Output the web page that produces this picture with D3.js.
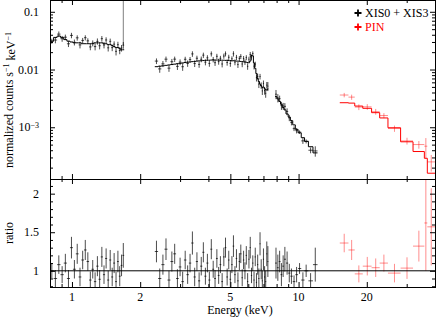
<!DOCTYPE html>
<html>
<head>
<meta charset="utf-8">
<title>spectrum and ratio</title>
<style>
  body { margin: 0; background: #fff; }
  svg text { font-family: "Liberation Serif", "DejaVu Serif", serif; }
</style>
</head>
<body>
<div id="chart"></div>
<script src="https://d3js.org/d3.v7.min.js"></script>
<script>
// XIS0 + XIS3 : three energy pieces (keV bin centres), model, data/model ratio and its error
var xisEnergy = [
  [0.815, 0.845, 0.875, 0.905, 0.935, 0.965, 0.995, 1.025, 1.055, 1.085,
   1.115, 1.145, 1.175, 1.205, 1.235, 1.265, 1.295, 1.325, 1.355, 1.385,
   1.415, 1.445, 1.475, 1.505, 1.535, 1.565, 1.595, 1.625, 1.655, 1.685],
  [2.36, 2.44, 2.52, 2.60, 2.68, 2.76, 2.84, 2.92, 3.00, 3.08,
   3.16, 3.24, 3.32, 3.40, 3.48, 3.56, 3.64, 3.72, 3.80, 3.88,
   3.96, 4.04, 4.12, 4.20, 4.28, 4.36, 4.44, 4.52, 4.60, 4.68,
   4.76, 4.84, 4.92, 5.00, 5.08, 5.16, 5.24, 5.32, 5.40, 5.48,
   5.56, 5.64, 5.72, 5.80, 5.88, 5.96, 6.04, 6.12, 6.20, 6.28,
   6.36, 6.44, 6.52, 6.60, 6.68, 6.76, 6.84, 6.92, 7.00, 7.08,
   7.16, 7.24, 7.32],
  [7.95, 8.10, 8.25, 8.40, 8.55, 8.70, 8.90, 9.10, 9.30, 9.55,
   9.80, 10.10, 10.45, 10.80, 11.30, 11.85]
];
var xisModel = [
  [0.031, 0.036, 0.038, 0.036, 0.033, 0.031, 0.030, 0.029, 0.029, 0.029,
   0.028, 0.028, 0.028, 0.028, 0.028, 0.029, 0.029, 0.029, 0.029, 0.028,
   0.028, 0.027, 0.027, 0.026, 0.025, 0.024, 0.024, 0.023, 0.022, 0.022],
  [0.0112, 0.0114, 0.0116, 0.0118, 0.0120, 0.0122, 0.0124, 0.0126, 0.0128, 0.0130,
   0.0132, 0.0134, 0.0135, 0.0137, 0.0138, 0.0140, 0.0141, 0.0142, 0.0143, 0.0144,
   0.0145, 0.0145, 0.0146, 0.0146, 0.0146, 0.0146, 0.0146, 0.0145, 0.0145, 0.0145,
   0.0144, 0.0144, 0.0143, 0.0143, 0.0142, 0.0142, 0.0141, 0.0140, 0.0140, 0.0139,
   0.0138, 0.0137, 0.0136, 0.0135, 0.0134, 0.0132, 0.0131, 0.0140, 0.0175, 0.0172,
   0.0130, 0.0105, 0.0085, 0.0070, 0.0062, 0.0056, 0.0052, 0.0049, 0.0050, 0.0047,
   0.0045, 0.0044, 0.0046],
  [0.0034, 0.0031, 0.0028, 0.0025, 0.0022, 0.0020, 0.0017, 0.0015, 0.0013, 0.0011,
   0.00092, 0.00080, 0.00066, 0.00057, 0.00046, 0.00036]
];
var xisRatio = [
  [1.00, 0.90, 1.08, 0.95, 1.10, 0.90, 1.30, 1.02, 1.22, 0.92,
   1.14, 1.27, 1.12, 0.88, 1.02, 0.86, 1.06, 0.89, 1.18, 0.95,
   1.16, 0.88, 1.14, 0.92, 1.10, 0.86, 1.12, 0.93, 1.07, 1.20],
  [1.25, 0.90, 1.08, 1.28, 0.88, 1.12, 1.22, 0.90, 1.05, 0.86,
   1.14, 0.95, 1.10, 1.36, 0.92, 1.12, 0.87, 1.06, 1.24, 0.93,
   1.10, 0.88, 1.28, 1.02, 0.90, 1.16, 0.94, 1.08, 0.86, 1.18,
   1.30, 0.92, 1.14, 0.89, 1.08, 1.32, 0.95, 1.16, 0.87, 1.12,
   1.22, 0.91, 1.14, 1.00, 1.20, 0.86, 1.15, 1.30, 0.94, 1.10,
   0.88, 1.18, 0.85, 1.08, 0.90, 1.35, 1.02, 0.87, 1.15, 0.92,
   0.86, 1.22, 1.12],
  [1.10, 1.04, 1.12, 0.95, 1.06, 1.15, 1.10, 0.97, 0.93, 0.86,
   0.95, 1.03, 0.88, 1.00, 0.87, 1.08]
];
var xisRatioErr = [
  [0.10, 0.11, 0.12, 0.11, 0.12, 0.11, 0.14, 0.12, 0.13, 0.12,
   0.12, 0.13, 0.12, 0.11, 0.12, 0.12, 0.13, 0.12, 0.13, 0.12,
   0.13, 0.12, 0.13, 0.12, 0.13, 0.13, 0.14, 0.13, 0.14, 0.16],
  [0.14, 0.13, 0.13, 0.14, 0.12, 0.13, 0.13, 0.12, 0.12, 0.13,
   0.12, 0.12, 0.12, 0.15, 0.12, 0.12, 0.11, 0.12, 0.13, 0.11,
   0.12, 0.11, 0.13, 0.11, 0.11, 0.12, 0.11, 0.11, 0.11, 0.12,
   0.13, 0.11, 0.12, 0.11, 0.11, 0.14, 0.11, 0.12, 0.11, 0.11,
   0.12, 0.11, 0.12, 0.11, 0.12, 0.11, 0.12, 0.14, 0.10, 0.10,
   0.11, 0.12, 0.12, 0.13, 0.13, 0.15, 0.13, 0.13, 0.14, 0.14,
   0.14, 0.16, 0.20],
  [0.20, 0.17, 0.14, 0.15, 0.14, 0.16, 0.15, 0.12, 0.10, 0.08,
   0.10, 0.07, 0.10, 0.08, 0.10, 0.22]
];
// tall upper error bar at the end of the low-energy piece: [keV, top]
var xisSpike = [1.685, 0.2];

// HXD-PIN
var pinEdges = [15.2, 16.6, 17.7, 19.2, 21.0, 22.8, 24.8, 28.2, 32.0, 35.9, 37.0, 40.0];
var pinModel = [0.00266, 0.00262, 0.00233, 0.00213, 0.00179, 0.00145, 0.00098, 0.00056, 0.00038, 0.00029, 0.00016];
var pinRatio = [1.36, 1.27, 0.96, 1.06, 1.04, 1.10, 0.97, 1.035, 1.32, 1.62, 1.57];
var pinRatioErr = [0.12, 0.13, 0.11, 0.12, 0.12, 0.11, 0.12, 0.14, 0.20, 0.62, 0.50];

var xTicks = [1, 2, 5, 10, 20];
var topTicks = [0.1, 0.01, 0.001];
var ratioTicks = [1, 1.5, 2];

var W = 436, H = 319;
var L = 50, R = 435, T = 0, MID = 179, B = 287;

var svg = d3.select("#chart").append("svg")
  .attr("width", W).attr("height", H);

var x = d3.scaleLog().domain([0.8, 40]).range([L, R]);
var yTop = d3.scaleLog().domain([1.27e-4, 0.16]).range([MID, T]);
var yRat = d3.scaleLinear().domain([0.79, 2.19]).range([B, MID]);

var defs = svg.append("defs");
defs.append("clipPath").attr("id", "clipTop")
  .append("rect").attr("x", L).attr("y", T).attr("width", R - L).attr("height", MID - T);
defs.append("clipPath").attr("id", "clipRat")
  .append("rect").attr("x", L).attr("y", MID).attr("width", R - L).attr("height", B - MID + 1);

// bins with edges half way to the neighbours
function xisBins(k) {
  var E = xisEnergy[k];
  return E.map(function(e, i) {
    var prev = i > 0 ? E[i - 1] : null, next = i < E.length - 1 ? E[i + 1] : null;
    var lo = prev !== null ? (prev + e) / 2 : e - (next - e) / 2;
    var hi = next !== null ? (e + next) / 2 : e + (e - prev) / 2;
    return {e: e, lo: lo, hi: hi, m: xisModel[k][i], r: xisRatio[k][i], s: xisRatioErr[k][i]};
  });
}
var pinBins = pinModel.map(function(m, i) {
  var lo = pinEdges[i], hi = pinEdges[i + 1];
  return {e: (lo + hi) / 2, lo: lo, hi: hi, m: m, r: pinRatio[i], s: pinRatioErr[i]};
});

var gTop = svg.append("g").attr("clip-path", "url(#clipTop)");
var gRat = svg.append("g").attr("clip-path", "url(#clipRat)");

function topY(v) { return v > 0 ? yTop(v) : MID + 10; }

function drawCrosses(bins, color, op) {
  var a = gTop.append("g").attr("stroke", color).attr("stroke-opacity", op).attr("stroke-width", 1);
  bins.forEach(function(d) {
    var dv = d.m * d.r;
    a.append("line").attr("x1", x(d.lo)).attr("x2", x(d.hi))
      .attr("y1", yTop(dv)).attr("y2", yTop(dv));
    a.append("line").attr("x1", x(d.e)).attr("x2", x(d.e))
      .attr("y1", topY(d.m * (d.r - d.s))).attr("y2", topY(d.m * (d.r + d.s)));
  });
  var b = gRat.append("g").attr("stroke", color).attr("stroke-opacity", op).attr("stroke-width", 1);
  bins.forEach(function(d) {
    b.append("line").attr("x1", x(d.lo)).attr("x2", x(d.hi))
      .attr("y1", yRat(d.r)).attr("y2", yRat(d.r));
    b.append("line").attr("x1", x(d.e)).attr("x2", x(d.e))
      .attr("y1", yRat(d.r - d.s)).attr("y2", yRat(d.r + d.s));
  });
}

var step = d3.line().x(function(p) { return x(p[0]); }).y(function(p) { return yTop(p[1]); });
function drawModel(bins, color) {
  var pts = [];
  bins.forEach(function(d) { pts.push([d.lo, d.m]); pts.push([d.hi, d.m]); });
  gTop.append("path").attr("d", step(pts))
    .attr("fill", "none").attr("stroke", color).attr("stroke-width", 1);
}

// XIS
[0, 1, 2].forEach(function(k) { drawCrosses(xisBins(k), "#000", 0.7); });
var sb = xisBins(0), last = sb[sb.length - 1];
gTop.append("line").attr("x1", x(xisSpike[0])).attr("x2", x(xisSpike[0]))
  .attr("y1", yTop(last.m * last.r)).attr("y2", yTop(xisSpike[1]))
  .attr("stroke", "#000").attr("stroke-opacity", 0.5);
[0, 1, 2].forEach(function(k) { drawModel(xisBins(k), "#000"); });

// PIN
drawCrosses(pinBins, "#ff0000", 0.45);
drawModel(pinBins, "#ff0000");

// ratio = 1 line
svg.append("line").attr("x1", L).attr("x2", R).attr("y1", yRat(1)).attr("y2", yRat(1))
  .attr("stroke", "#000").attr("stroke-width", 1);

// axes (inward ticks)
var xMinor = x.ticks().filter(function(v) { return xTicks.indexOf(v) < 0; });
var topMinor = yTop.ticks().filter(function(v) {
  return topTicks.every(function(t) { return Math.abs(v - t) / t > 1e-6; });
});
var ratMinor = d3.range(0.8, 2.2, 0.1).filter(function(v) {
  return ratioTicks.every(function(t) { return Math.abs(v - t) > 1e-6; });
});

function tickAxis(axisFn, scale, values, size, tx, ty) {
  var g = svg.append("g").attr("transform", "translate(" + tx + "," + ty + ")")
    .call(axisFn(scale).tickValues(values).tickSize(-size).tickFormat(""));
  g.select(".domain").remove();
  return g;
}
// x ticks on all four horizontal edges
[[d3.axisTop, T], [d3.axisBottom, MID], [d3.axisTop, MID], [d3.axisBottom, B]].forEach(function(a) {
  tickAxis(a[0], x, xTicks, 5, 0, a[1]);
  tickAxis(a[0], x, xMinor, 3, 0, a[1]);
});
// y ticks, left and right
[[d3.axisLeft, L], [d3.axisRight, R]].forEach(function(a) {
  tickAxis(a[0], yTop, topTicks, 5, a[1], 0);
  tickAxis(a[0], yTop, topMinor, 3, a[1], 0);
  tickAxis(a[0], yRat, ratioTicks, 5, a[1], 0);
  tickAxis(a[0], yRat, ratMinor, 3, a[1], 0);
});

// frames
svg.append("rect").attr("x", L + 0.5).attr("y", T + 0.5).attr("width", R - L).attr("height", MID - T)
  .attr("fill", "none").attr("stroke", "#000");
svg.append("rect").attr("x", L + 0.5).attr("y", MID + 0.5).attr("width", R - L).attr("height", B - MID)
  .attr("fill", "none").attr("stroke", "#000");

// tick labels
var fs = 12;
svg.append("g").selectAll("text").data(xTicks).enter().append("text")
  .attr("x", function(d) { return x(d); }).attr("y", B + 14)
  .attr("text-anchor", "middle").attr("font-size", fs)
  .text(function(d) { return d; });

svg.append("g").selectAll("text").data(ratioTicks).enter().append("text")
  .attr("x", L - 11).attr("y", function(d) { return yRat(d); }).attr("dy", "0.35em")
  .attr("text-anchor", "end").attr("font-size", fs)
  .text(function(d) { return d; });

svg.append("g").selectAll("text").data(topTicks).enter().append("text")
  .attr("x", L - 11).attr("y", function(d) { return yTop(d); }).attr("dy", "0.35em")
  .attr("text-anchor", "end").attr("font-size", fs)
  .each(function(d) {
    var t = d3.select(this);
    if (d >= 0.01) { t.text(d); return; }
    t.append("tspan").text("10");
    t.append("tspan").attr("dy", "-0.45em").attr("font-size", 8).text("\u22123");
  });

// axis titles
svg.append("text").attr("x", 240).attr("y", 314).attr("text-anchor", "middle")
  .attr("font-size", fs).text("Energy (keV)");

var yl = svg.append("text").attr("transform", "translate(13,100) rotate(-90)")
  .attr("text-anchor", "middle").attr("font-size", fs);
yl.append("tspan").text("normalized counts s");
yl.append("tspan").attr("dy", "-0.45em").attr("font-size", 8).text("\u22121");
yl.append("tspan").attr("dy", "0.45em").text(" keV");
yl.append("tspan").attr("dy", "-0.45em").attr("font-size", 8).text("\u22121");

svg.append("text").attr("transform", "translate(13," + ((MID + B) / 2) + ") rotate(-90)")
  .attr("text-anchor", "middle").attr("font-size", fs).text("ratio");

// legend
var legend = [["XIS0 + XIS3", "#000"], ["PIN", "#ff0000"]];
legend.forEach(function(d, i) {
  var g = svg.append("g").attr("transform", "translate(358," + (13 + i * 14) + ")");
  g.append("path").attr("d", "M-3.5,0H3.5M0,-3.5V3.5")
    .attr("stroke", d[1]).attr("stroke-width", 1.8).attr("fill", "none");
  g.append("text").attr("x", 7).attr("dy", "0.35em").attr("font-size", fs)
    .attr("fill", d[1]).text(d[0]);
});
</script>
</body>
</html>
